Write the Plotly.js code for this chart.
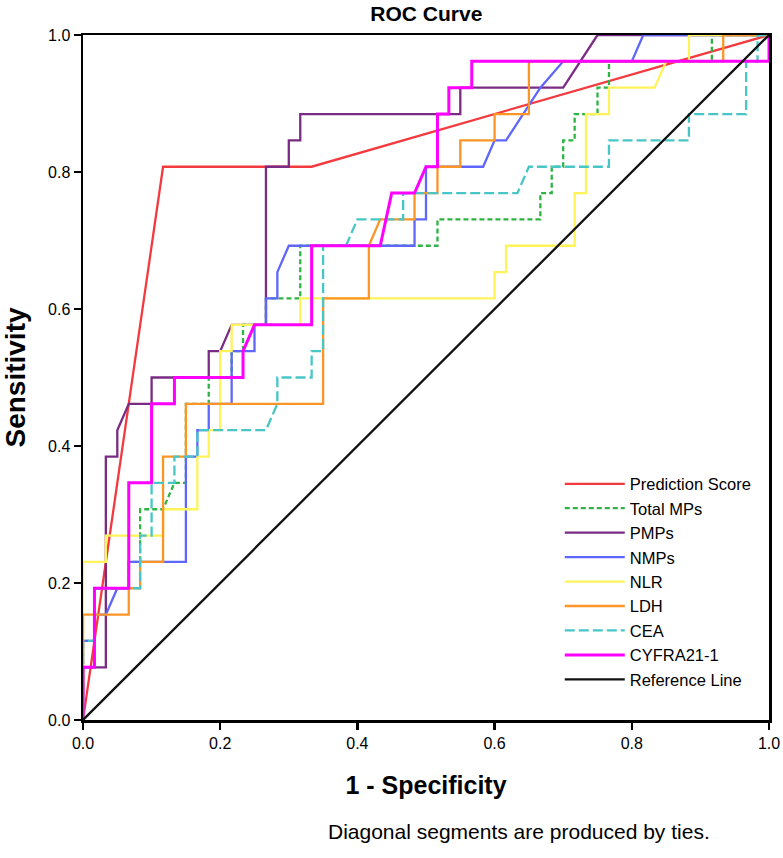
<!DOCTYPE html>
<html>
<head>
<meta charset="utf-8">
<script src="https://cdn.plot.ly/plotly-3.0.1.min.js"></script>
<style>
html,body{margin:0;padding:0;background:#fff;}
#chart{width:783px;height:858px;}
</style>
</head>
<body>
<div id="chart"></div>
<script>
// Series names (legend order)
const seriesNames = ["Prediction Score","Total MPs","PMPs","NMPs","NLR","LDH","CEA","CYFRA21-1","Reference Line"];

// Prediction Score
const predX = [0, 0.1167, 0.3333, 1];
const predY = [0, 0.8077, 0.8077, 1];

// Total MPs
const totalX = [0,0,0.0167,0.0167,0.0667,0.0667,0.0833,0.0833,0.1167,0.1333,0.15,0.15,0.1833,0.1833,0.2167,0.2167,0.2333,0.2333,0.2667,0.2667,0.3167,0.3167,0.5167,0.5167,0.6667,0.6667,0.6833,0.6833,0.7,0.7,0.7167,0.7167,0.75,0.75,0.7667,0.7667,0.9167,0.9167,1];
const totalY = [0,0.1154,0.1154,0.1923,0.1923,0.2308,0.2308,0.3077,0.3077,0.3462,0.3462,0.4615,0.4615,0.5,0.5,0.5385,0.5385,0.5769,0.5769,0.6154,0.6154,0.6923,0.6923,0.7308,0.7308,0.7692,0.7692,0.8077,0.8077,0.8462,0.8462,0.8846,0.8846,0.9231,0.9231,0.9615,0.9615,1,1];

// PMPs
const pmpX = [0,0,0.0333,0.0333,0.05,0.05,0.0667,0.1,0.1,0.1833,0.1833,0.2,0.2167,0.2667,0.2667,0.3,0.3,0.3167,0.3167,0.55,0.55,0.7,0.75,1];
const pmpY = [0,0.0769,0.0769,0.3846,0.3846,0.4231,0.4615,0.4615,0.5,0.5,0.5385,0.5385,0.5769,0.5769,0.8077,0.8077,0.8462,0.8462,0.8846,0.8846,0.9231,0.9231,1,1];

// NMPs
const nmpX = [0,0,0.0167,0.0167,0.0333,0.05,0.0667,0.0667,0.15,0.15,0.1667,0.1667,0.1833,0.1833,0.2167,0.2167,0.25,0.25,0.2667,0.2667,0.2833,0.2833,0.3,0.4833,0.4833,0.5,0.5,0.5833,0.6,0.6167,0.6667,0.7,0.8,0.8167,1];
const nmpY = [0,0.1154,0.1154,0.1538,0.1538,0.1923,0.1923,0.2308,0.2308,0.3846,0.3846,0.4231,0.4231,0.4615,0.4615,0.5385,0.5385,0.5769,0.5769,0.6154,0.6154,0.6538,0.6923,0.6923,0.7308,0.7308,0.8077,0.8077,0.8462,0.8462,0.9231,0.9615,0.9615,1,1];

// NLR
const nlrX = [0,0,0.0333,0.0333,0.1167,0.1167,0.1667,0.1667,0.1833,0.1833,0.2,0.2,0.2167,0.2167,0.3167,0.3167,0.6,0.6,0.6167,0.6167,0.7167,0.7167,0.7333,0.7333,0.7667,0.7667,0.8333,0.85,0.8833,0.8833,1];
const nlrY = [0,0.2308,0.2308,0.2692,0.2692,0.3077,0.3077,0.3846,0.3846,0.4231,0.4231,0.5385,0.5385,0.5769,0.5769,0.6154,0.6154,0.6538,0.6538,0.6923,0.6923,0.7692,0.7692,0.8846,0.8846,0.9231,0.9231,0.9615,0.9615,1,1];

// LDH
const ldhX = [0,0,0.0667,0.0667,0.0833,0.0833,0.1167,0.1167,0.15,0.15,0.35,0.35,0.4167,0.4167,0.4333,0.4833,0.4833,0.5167,0.5167,0.55,0.55,0.6,0.6,0.65,0.65,0.9333,0.9333,1];
const ldhY = [0,0.1538,0.1538,0.1923,0.1923,0.2308,0.2308,0.3846,0.3846,0.4615,0.4615,0.6154,0.6154,0.6923,0.7308,0.7308,0.7692,0.7692,0.8077,0.8077,0.8462,0.8462,0.8846,0.8846,0.9615,0.9615,1,1];

// CEA
const ceaX = [0,0,0.0167,0.0167,0.0667,0.0833,0.0833,0.1,0.1,0.1333,0.1333,0.1667,0.1667,0.2667,0.2833,0.2833,0.3333,0.3333,0.35,0.35,0.3833,0.4,0.4667,0.4667,0.6333,0.65,0.7667,0.7667,0.8833,0.8833,0.9667,0.9667,0.9833,0.9833,1];
const ceaY = [0,0.1154,0.1154,0.1923,0.1923,0.1923,0.2692,0.2692,0.3462,0.3462,0.3846,0.3846,0.4231,0.4231,0.4615,0.5,0.5,0.5385,0.5385,0.6923,0.6923,0.7308,0.7308,0.7692,0.7692,0.8077,0.8077,0.8462,0.8462,0.8846,0.8846,0.9615,0.9615,1,1];

// CYFRA21-1
const cyfX = [0,0,0.0167,0.0167,0.0667,0.0667,0.1,0.1,0.1333,0.1333,0.2333,0.2333,0.25,0.3333,0.3333,0.4333,0.45,0.4833,0.5,0.5167,0.5167,0.5333,0.5333,0.5667,0.5667,1,1];
const cyfY = [0,0.0769,0.0769,0.1923,0.1923,0.3462,0.3462,0.4615,0.4615,0.5,0.5,0.5385,0.5769,0.5769,0.6923,0.6923,0.7692,0.7692,0.8077,0.8077,0.8846,0.8846,0.9231,0.9231,0.9615,0.9615,1];

// Reference line
const refX = [0, 1];
const refY = [0, 1];

// Axis ticks
const tickVals = [0, 0.2, 0.4, 0.6, 0.8, 1.0];
const tickText = ["0.0","0.2","0.4","0.6","0.8","1.0"];

const xs = [predX,totalX,pmpX,nmpX,nlrX,ldhX,ceaX,cyfX,refX];
const ys = [predY,totalY,pmpY,nmpY,nlrY,ldhY,ceaY,cyfY,refY];
const colors = ["#f23a3f","#2fb344","#7a2c84","#5f67fa","#fff35a","#fb9526","#48c6c6","#ff00ff","#111111"];
const dashes = ["solid","5px,3px","solid","solid","solid","solid","10px,4px","solid","solid"];
const widths = [2.3,2.3,2.3,2.3,2.3,2.3,2.3,3,2.3];

const traces = seriesNames.map((n,k)=>({
  type:"scatter", mode:"lines", name:n, x:xs[k], y:ys[k],
  line:{color:colors[k], width:widths[k], dash:dashes[k], shape:"linear"},
  hoverinfo:"skip"
}));

const FONT = "Liberation Sans, Arial, sans-serif";

const axisCommon = {
  range:[0,1], showgrid:false, zeroline:false, showline:true, mirror:true,
  linecolor:"#000", linewidth:2.5, ticks:"outside", ticklen:7, tickwidth:2.5, tickcolor:"#000",
  tickvals:tickVals, ticktext:tickText,
  tickfont:{family:FONT, size:16, color:"#000"}
};

const layout = {
  width:783, height:858,
  margin:{l:83, r:14, t:35, b:138},
  paper_bgcolor:"#fff", plot_bgcolor:"#fff",
  title:{text:"<b>ROC Curve</b>", x:0.5445, xanchor:"center", y:0.984, yanchor:"middle",
         font:{family:FONT, size:21, color:"#000"}},
  xaxis:Object.assign({}, axisCommon, {
    title:{text:"<b>1 - Specificity</b>", standoff:26,
           font:{family:FONT, size:25, color:"#000"}}
  }),
  yaxis:Object.assign({}, axisCommon, {
    title:{text:"<b>Sensitivity</b>", standoff:17,
           font:{family:FONT, size:28, color:"#000"}}
  }),
  showlegend:true,
  legend:{x:0.695, y:0.37, xanchor:"left", yanchor:"top", bgcolor:"rgba(0,0,0,0)",
          borderwidth:0, itemwidth:60, tracegroupgap:0,
          font:{family:FONT, size:16.5, color:"#000"}},
  annotations:[{
    text:"Diagonal segments are produced by ties.", xref:"paper", yref:"paper",
    x:0.636, y:-0.1635, xanchor:"center", yanchor:"middle", showarrow:false,
    font:{family:FONT, size:21, color:"#000"}
  }]
};

Plotly.newPlot("chart", traces, layout, {staticPlot:true, displayModeBar:false});
</script>
</body>
</html>
